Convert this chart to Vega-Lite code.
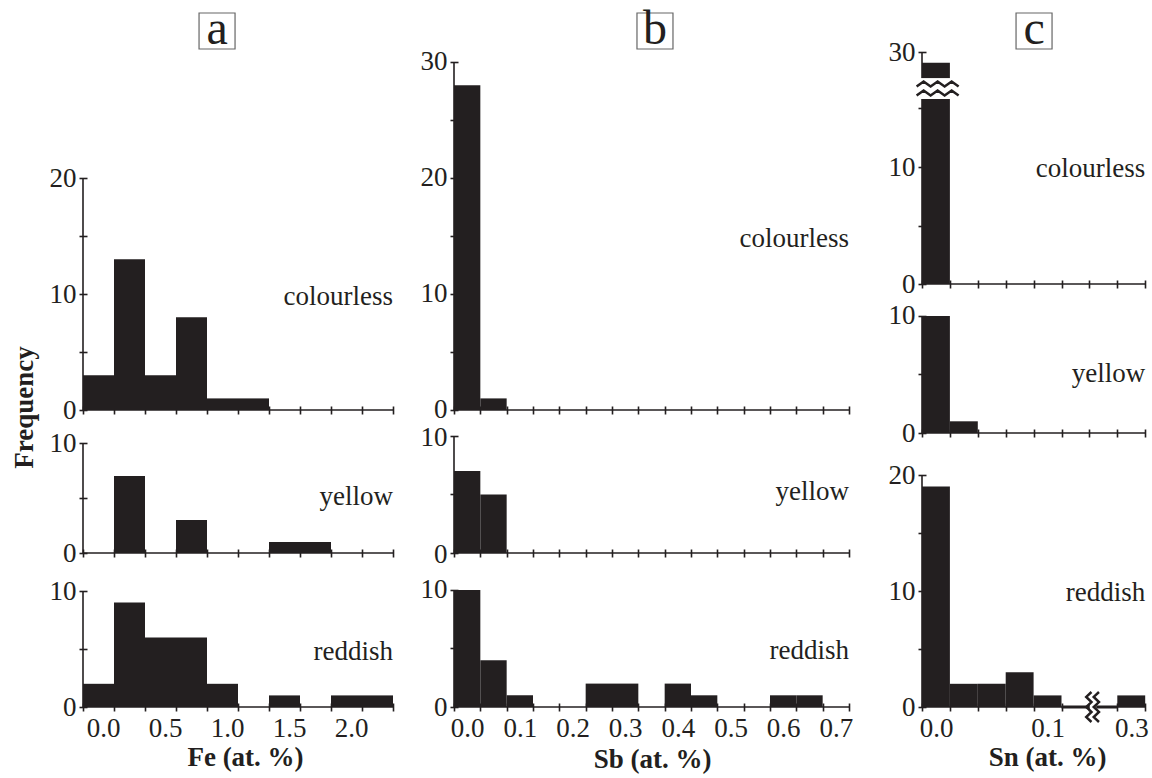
{
  "$schema": "https://vega.github.io/schema/vega-lite/v6.json",
  "background": "white",
  "padding": {"left": 10, "top": 6, "right": 2, "bottom": 2},
  "config": {
    "view": {"stroke": null},
    "font": "Liberation Serif",
    "axis": {
      "domain": false, "grid": false, "offset": -4, "tickSize": 8, "tickWidth": 1.6, "tickColor": "#231f20", "tickCount": 50,
      "labelFont": "Liberation Serif", "labelFontSize": 27, "labelColor": "#231f20",
      "labelFlush": false, "labelOverlap": false,
      "titleFont": "Liberation Serif", "titleFontSize": 27, "titleFontWeight": "bold", "titleColor": "#231f20"
    },
    "axisX": {"labelPadding": 4.5},
    "axisY": {"labelPadding": 3}
  },
  "datasets": {
    "hist": [
      {"element": "Fe", "colour": "colourless", "bin_start": -0.125, "bin_end": 0.125, "count": 3},
      {"element": "Fe", "colour": "colourless", "bin_start": 0.125, "bin_end": 0.375, "count": 13},
      {"element": "Fe", "colour": "colourless", "bin_start": 0.375, "bin_end": 0.625, "count": 3},
      {"element": "Fe", "colour": "colourless", "bin_start": 0.625, "bin_end": 0.875, "count": 8},
      {"element": "Fe", "colour": "colourless", "bin_start": 0.875, "bin_end": 1.125, "count": 1},
      {"element": "Fe", "colour": "colourless", "bin_start": 1.125, "bin_end": 1.375, "count": 1},
      {"element": "Fe", "colour": "yellow", "bin_start": 0.125, "bin_end": 0.375, "count": 7},
      {"element": "Fe", "colour": "yellow", "bin_start": 0.625, "bin_end": 0.875, "count": 3},
      {"element": "Fe", "colour": "yellow", "bin_start": 1.375, "bin_end": 1.625, "count": 1},
      {"element": "Fe", "colour": "yellow", "bin_start": 1.625, "bin_end": 1.875, "count": 1},
      {"element": "Fe", "colour": "reddish", "bin_start": -0.125, "bin_end": 0.125, "count": 2},
      {"element": "Fe", "colour": "reddish", "bin_start": 0.125, "bin_end": 0.375, "count": 9},
      {"element": "Fe", "colour": "reddish", "bin_start": 0.375, "bin_end": 0.625, "count": 6},
      {"element": "Fe", "colour": "reddish", "bin_start": 0.625, "bin_end": 0.875, "count": 6},
      {"element": "Fe", "colour": "reddish", "bin_start": 0.875, "bin_end": 1.125, "count": 2},
      {"element": "Fe", "colour": "reddish", "bin_start": 1.375, "bin_end": 1.625, "count": 1},
      {"element": "Fe", "colour": "reddish", "bin_start": 1.875, "bin_end": 2.125, "count": 1},
      {"element": "Fe", "colour": "reddish", "bin_start": 2.125, "bin_end": 2.375, "count": 1},
      {"element": "Sb", "colour": "colourless", "bin_start": -0.025, "bin_end": 0.025, "count": 28},
      {"element": "Sb", "colour": "colourless", "bin_start": 0.025, "bin_end": 0.075, "count": 1},
      {"element": "Sb", "colour": "yellow", "bin_start": -0.025, "bin_end": 0.025, "count": 7},
      {"element": "Sb", "colour": "yellow", "bin_start": 0.025, "bin_end": 0.075, "count": 5},
      {"element": "Sb", "colour": "reddish", "bin_start": -0.025, "bin_end": 0.025, "count": 10},
      {"element": "Sb", "colour": "reddish", "bin_start": 0.025, "bin_end": 0.075, "count": 4},
      {"element": "Sb", "colour": "reddish", "bin_start": 0.075, "bin_end": 0.125, "count": 1},
      {"element": "Sb", "colour": "reddish", "bin_start": 0.225, "bin_end": 0.275, "count": 2},
      {"element": "Sb", "colour": "reddish", "bin_start": 0.275, "bin_end": 0.325, "count": 2},
      {"element": "Sb", "colour": "reddish", "bin_start": 0.375, "bin_end": 0.425, "count": 2},
      {"element": "Sb", "colour": "reddish", "bin_start": 0.425, "bin_end": 0.475, "count": 1},
      {"element": "Sb", "colour": "reddish", "bin_start": 0.575, "bin_end": 0.625, "count": 1},
      {"element": "Sb", "colour": "reddish", "bin_start": 0.625, "bin_end": 0.675, "count": 1},
      {"element": "Sn", "colour": "colourless", "bin_start": -0.0125, "bin_end": 0.0125, "count": 29},
      {"element": "Sn", "colour": "yellow", "bin_start": -0.0125, "bin_end": 0.0125, "count": 10},
      {"element": "Sn", "colour": "yellow", "bin_start": 0.0125, "bin_end": 0.0375, "count": 1},
      {"element": "Sn", "colour": "reddish", "bin_start": -0.0125, "bin_end": 0.0125, "count": 19},
      {"element": "Sn", "colour": "reddish", "bin_start": 0.0125, "bin_end": 0.0375, "count": 2},
      {"element": "Sn", "colour": "reddish", "bin_start": 0.0375, "bin_end": 0.0625, "count": 2},
      {"element": "Sn", "colour": "reddish", "bin_start": 0.0625, "bin_end": 0.0875, "count": 3},
      {"element": "Sn", "colour": "reddish", "bin_start": 0.0875, "bin_end": 0.1125, "count": 1},
      {"element": "Sn", "colour": "reddish", "bin_start": 0.2875, "bin_end": 0.3125, "count": 1}
    ]
  },
  "spacing": 7,
  "hconcat": [
    {
      "vconcat": [
        {
          "width": 310, "height": 36,
          "data": {"values": [{"panel": "a"}]},
          "layer": [
            {"mark": {"type": "point", "shape": "square", "size": 1296, "filled": false, "color": "#666666", "strokeWidth": 1.2, "opacity": 1},
             "encoding": {"x": {"datum": 0.956, "type": "quantitative", "scale": {"domain": [-0.125, 2.375], "nice": false, "zero": false}, "axis": null}}},
            {"mark": {"type": "text", "fontSize": 48, "baseline": "middle", "dy": -1, "color": "#231f20"},
             "encoding": {"x": {"datum": 0.956, "type": "quantitative", "axis": null}, "text": {"field": "panel"}}}
          ]
        },
        {
          "width": 310, "height": 361,
          "layer": [
            {"data": {"values": [{}]}, "mark": {"type": "rule", "color": "#231f20", "strokeWidth": 1.6},
             "encoding": {"x": {"datum": -0.125, "type": "quantitative"}, "y": {"datum": 0, "type": "quantitative"}, "y2": {"datum": 20}}},
            {"data": {"values": [{}]}, "mark": {"type": "rule", "color": "#231f20", "strokeWidth": 1.6},
             "encoding": {"x": {"datum": -0.125, "type": "quantitative"}, "x2": {"datum": 2.375}, "y": {"datum": 0, "type": "quantitative"}}},
            {"data": {"name": "hist"},
             "transform": [{"filter": "datum.element == 'Fe' && datum.colour == 'colourless'"}],
             "mark": {"type": "rect", "color": "#231f20"},
             "encoding": {
               "x": {"field": "bin_start", "type": "quantitative", "scale": {"domain": [-0.125, 2.375], "nice": false, "zero": false},
                     "axis": {"values": [-0.125, 0.125, 0.375, 0.625, 0.875, 1.125, 1.375, 1.625, 1.875, 2.125, 2.375], "labels": false, "title": null}},
               "x2": {"field": "bin_end"},
               "y": {"field": "count", "type": "quantitative", "scale": {"domain": [0, 31.121], "nice": false, "zero": false},
                     "axis": {"values": [0, 5, 10, 15, 20], "labelExpr": "datum.value % 10 == 0 ? format(datum.value, 'd') : ''",
                              "title": "Frequency", "titleX": -54.5, "titleY": 358, "titleAngle": -90, "titleAlign": "center", "titleBaseline": "alphabetic"}},
               "y2": {"datum": 0}
             }},
            {"data": {"values": [{"label": "colourless"}]},
             "mark": {"type": "text", "align": "right", "baseline": "alphabetic", "fontSize": 27, "color": "#231f20"},
             "encoding": {"x": {"datum": 2.375, "type": "quantitative"}, "y": {"datum": 9.05, "type": "quantitative"}, "text": {"field": "label"}}}
          ]
        },
        {
          "width": 310, "height": 143,
          "layer": [
            {"data": {"values": [{}]}, "mark": {"type": "rule", "color": "#231f20", "strokeWidth": 1.6},
             "encoding": {"x": {"datum": -0.125, "type": "quantitative"}, "y": {"datum": 0, "type": "quantitative"}, "y2": {"datum": 10}}},
            {"data": {"values": [{}]}, "mark": {"type": "rule", "color": "#231f20", "strokeWidth": 1.6},
             "encoding": {"x": {"datum": -0.125, "type": "quantitative"}, "x2": {"datum": 2.375}, "y": {"datum": 0, "type": "quantitative"}}},
            {"data": {"name": "hist"},
             "transform": [{"filter": "datum.element == 'Fe' && datum.colour == 'yellow'"}],
             "mark": {"type": "rect", "color": "#231f20"},
             "encoding": {
               "x": {"field": "bin_start", "type": "quantitative", "scale": {"domain": [-0.125, 2.375], "nice": false, "zero": false},
                     "axis": {"values": [-0.125, 0.125, 0.375, 0.625, 0.875, 1.125, 1.375, 1.625, 1.875, 2.125, 2.375], "labels": false, "title": null}},
               "x2": {"field": "bin_end"},
               "y": {"field": "count", "type": "quantitative", "scale": {"domain": [0, 13.0], "nice": false, "zero": false},
                     "axis": {"values": [0, 5, 10], "labelExpr": "datum.value % 10 == 0 ? format(datum.value, 'd') : ''", "title": null}},
               "y2": {"datum": 0}
             }},
            {"data": {"values": [{"label": "yellow"}]},
             "mark": {"type": "text", "align": "right", "baseline": "alphabetic", "fontSize": 27, "color": "#231f20"},
             "encoding": {"x": {"datum": 2.375, "type": "quantitative"}, "y": {"datum": 4.36, "type": "quantitative"}, "text": {"field": "label"}}}
          ]
        },
        {
          "width": 310, "height": 154,
          "layer": [
            {"data": {"values": [{}]}, "mark": {"type": "rule", "color": "#231f20", "strokeWidth": 1.6},
             "encoding": {"x": {"datum": -0.125, "type": "quantitative"}, "y": {"datum": 0, "type": "quantitative"}, "y2": {"datum": 10}}},
            {"data": {"values": [{}]}, "mark": {"type": "rule", "color": "#231f20", "strokeWidth": 1.6},
             "encoding": {"x": {"datum": -0.125, "type": "quantitative"}, "x2": {"datum": 2.375}, "y": {"datum": 0, "type": "quantitative"}}},
            {"data": {"name": "hist"},
             "transform": [{"filter": "datum.element == 'Fe' && datum.colour == 'reddish'"}],
             "mark": {"type": "rect", "color": "#231f20"},
             "encoding": {
               "x": {"field": "bin_start", "type": "quantitative", "scale": {"domain": [-0.125, 2.375], "nice": false, "zero": false},
                     "axis": {"values": [-0.125, 0.125, 0.375, 0.625, 0.875, 1.125, 1.375, 1.625, 1.875, 2.125, 2.375],
                              "labelExpr": "(abs((datum.value + 0.125) * 2 - round((datum.value + 0.125) * 2)) < 0.01 && datum.value < 2.2) ? format(datum.value + 0.125, '.1f') : ''",
                              "labelOffset": 20,
                              "title": "Fe (at. %)", "titleX": 162, "titleY": 62, "titleAlign": "center", "titleBaseline": "alphabetic"}},
               "x2": {"field": "bin_end"},
               "y": {"field": "count", "type": "quantitative", "scale": {"domain": [0, 13.276], "nice": false, "zero": false},
                     "axis": {"values": [0, 5, 10], "labelExpr": "datum.value % 10 == 0 ? format(datum.value, 'd') : ''", "title": null}},
               "y2": {"datum": 0}
             }},
            {"data": {"values": [{"label": "reddish"}]},
             "mark": {"type": "text", "align": "right", "baseline": "alphabetic", "fontSize": 27, "color": "#231f20"},
             "encoding": {"x": {"datum": 2.375, "type": "quantitative"}, "y": {"datum": 4.05, "type": "quantitative"}, "text": {"field": "label"}}}
          ]
        }
      ],
      "spacing": 0,
      "bounds": "flush"
    },
    {
      "vconcat": [
        {
          "width": 427, "height": 36,
          "data": {"values": [{"panel": "b"}]},
          "layer": [
            {"mark": {"type": "point", "shape": "square", "size": 1296, "filled": false, "color": "#666666", "strokeWidth": 1.2, "opacity": 1},
             "encoding": {"x": {"datum": 0.3566, "type": "quantitative", "scale": {"domain": [-0.025, 0.78576], "nice": false, "zero": false}, "axis": null}}},
            {"mark": {"type": "text", "fontSize": 48, "baseline": "middle", "dy": -1, "color": "#231f20"},
             "encoding": {"x": {"datum": 0.3566, "type": "quantitative", "axis": null}, "text": {"field": "panel"}}}
          ]
        },
        {
          "width": 427, "height": 361,
          "layer": [
            {"data": {"values": [{}]}, "mark": {"type": "rule", "color": "#231f20", "strokeWidth": 1.6},
             "encoding": {"x": {"datum": -0.025, "type": "quantitative"}, "y": {"datum": 0, "type": "quantitative"}, "y2": {"datum": 30}}},
            {"data": {"values": [{}]}, "mark": {"type": "rule", "color": "#231f20", "strokeWidth": 1.6},
             "encoding": {"x": {"datum": -0.025, "type": "quantitative"}, "x2": {"datum": 0.725}, "y": {"datum": 0, "type": "quantitative"}}},
            {"data": {"name": "hist"},
             "transform": [{"filter": "datum.element == 'Sb' && datum.colour == 'colourless'"}],
             "mark": {"type": "rect", "color": "#231f20"},
             "encoding": {
               "x": {"field": "bin_start", "type": "quantitative", "scale": {"domain": [-0.025, 0.78576], "nice": false, "zero": false},
                     "axis": {"values": [-0.025, 0.025, 0.075, 0.125, 0.175, 0.225, 0.275, 0.325, 0.375, 0.425, 0.475, 0.525, 0.575, 0.625, 0.675, 0.725], "labels": false, "title": null}},
               "x2": {"field": "bin_end"},
               "y": {"field": "count", "type": "quantitative", "scale": {"domain": [0, 31.121], "nice": false, "zero": false},
                     "axis": {"values": [0, 5, 10, 15, 20, 25, 30], "labelExpr": "datum.value % 10 == 0 ? format(datum.value, 'd') : ''", "labelOffset": -1, "title": null}},
               "y2": {"datum": 0}
             }},
            {"data": {"values": [{"label": "colourless"}]},
             "mark": {"type": "text", "align": "right", "baseline": "alphabetic", "fontSize": 27, "color": "#231f20"},
             "encoding": {"x": {"datum": 0.725, "type": "quantitative"}, "y": {"datum": 14.05, "type": "quantitative"}, "text": {"field": "label"}}}
          ]
        },
        {
          "width": 427, "height": 143,
          "layer": [
            {"data": {"values": [{}]}, "mark": {"type": "rule", "color": "#231f20", "strokeWidth": 1.6},
             "encoding": {"x": {"datum": -0.025, "type": "quantitative"}, "y": {"datum": 0, "type": "quantitative"}, "y2": {"datum": 10}}},
            {"data": {"values": [{}]}, "mark": {"type": "rule", "color": "#231f20", "strokeWidth": 1.6},
             "encoding": {"x": {"datum": -0.025, "type": "quantitative"}, "x2": {"datum": 0.725}, "y": {"datum": 0, "type": "quantitative"}}},
            {"data": {"name": "hist"},
             "transform": [{"filter": "datum.element == 'Sb' && datum.colour == 'yellow'"}],
             "mark": {"type": "rect", "color": "#231f20"},
             "encoding": {
               "x": {"field": "bin_start", "type": "quantitative", "scale": {"domain": [-0.025, 0.78576], "nice": false, "zero": false},
                     "axis": {"values": [-0.025, 0.025, 0.075, 0.125, 0.175, 0.225, 0.275, 0.325, 0.375, 0.425, 0.475, 0.525, 0.575, 0.625, 0.675, 0.725], "labels": false, "title": null}},
               "x2": {"field": "bin_end"},
               "y": {"field": "count", "type": "quantitative", "scale": {"domain": [0, 12.222], "nice": false, "zero": false},
                     "axis": {"values": [0, 5, 10], "labelExpr": "datum.value % 10 == 0 ? format(datum.value, 'd') : ''", "labelOffset": 1.5, "title": null}},
               "y2": {"datum": 0}
             }},
            {"data": {"values": [{"label": "yellow"}]},
             "mark": {"type": "text", "align": "right", "baseline": "alphabetic", "fontSize": 27, "color": "#231f20"},
             "encoding": {"x": {"datum": 0.725, "type": "quantitative"}, "y": {"datum": 4.5, "type": "quantitative"}, "text": {"field": "label"}}}
          ]
        },
        {
          "width": 427, "height": 154,
          "layer": [
            {"data": {"values": [{}]}, "mark": {"type": "rule", "color": "#231f20", "strokeWidth": 1.6},
             "encoding": {"x": {"datum": -0.025, "type": "quantitative"}, "y": {"datum": 0, "type": "quantitative"}, "y2": {"datum": 10}}},
            {"data": {"values": [{}]}, "mark": {"type": "rule", "color": "#231f20", "strokeWidth": 1.6},
             "encoding": {"x": {"datum": -0.025, "type": "quantitative"}, "x2": {"datum": 0.725}, "y": {"datum": 0, "type": "quantitative"}}},
            {"data": {"name": "hist"},
             "transform": [{"filter": "datum.element == 'Sb' && datum.colour == 'reddish'"}],
             "mark": {"type": "rect", "color": "#231f20"},
             "encoding": {
               "x": {"field": "bin_start", "type": "quantitative", "scale": {"domain": [-0.025, 0.78576], "nice": false, "zero": false},
                     "axis": {"values": [-0.025, 0.025, 0.075, 0.125, 0.175, 0.225, 0.275, 0.325, 0.375, 0.425, 0.475, 0.525, 0.575, 0.625, 0.675, 0.725],
                              "labelExpr": "(abs((datum.value + 0.025) * 10 - round((datum.value + 0.025) * 10)) < 0.01) ? format(datum.value + 0.025, '.1f') : ''",
                              "labelOffset": 13.2,
                              "title": "Sb (at. %)", "titleX": 198, "titleY": 64, "titleAlign": "center", "titleBaseline": "alphabetic"}},
               "x2": {"field": "bin_end"},
               "y": {"field": "count", "type": "quantitative", "scale": {"domain": [0, 13.162], "nice": false, "zero": false},
                     "axis": {"values": [0, 5, 10], "labelExpr": "datum.value % 10 == 0 ? format(datum.value, 'd') : ''", "title": null}},
               "y2": {"datum": 0}
             }},
            {"data": {"values": [{"label": "reddish"}]},
             "mark": {"type": "text", "align": "right", "baseline": "alphabetic", "fontSize": 27, "color": "#231f20"},
             "encoding": {"x": {"datum": 0.725, "type": "quantitative"}, "y": {"datum": 4.1, "type": "quantitative"}, "text": {"field": "label"}}}
          ]
        }
      ],
      "spacing": 0,
      "bounds": "flush"
    },
    {
      "vconcat": [
        {
          "width": 223, "height": 36,
          "data": {"values": [{"panel": "c"}]},
          "layer": [
            {"mark": {"type": "point", "shape": "square", "size": 1296, "filled": false, "color": "#666666", "strokeWidth": 1.2, "opacity": 1},
             "encoding": {"x": {"datum": 0.0879, "type": "quantitative", "scale": {"domain": [-0.0125, 0.1625, 0.2875, 0.3125], "range": [0, 195.3, 195.3, 223.2], "nice": false, "zero": false}, "axis": null}}},
            {"mark": {"type": "text", "fontSize": 48, "baseline": "middle", "dy": -1, "color": "#231f20"},
             "encoding": {"x": {"datum": 0.0879, "type": "quantitative", "axis": null}, "text": {"field": "panel"}}}
          ]
        },
        {
          "width": 223, "height": 235,
          "layer": [
            {"data": {"values": [{}]}, "mark": {"type": "rule", "color": "#231f20", "strokeWidth": 1.6},
             "encoding": {"x": {"datum": -0.0125, "type": "quantitative"}, "y": {"datum": 0, "type": "quantitative"}, "y2": {"datum": 30}}},
            {"data": {"values": [{}]}, "mark": {"type": "rule", "color": "#231f20", "strokeWidth": 1.6},
             "encoding": {"x": {"datum": -0.0125, "type": "quantitative"}, "x2": {"datum": 0.3125}, "y": {"datum": 0, "type": "quantitative"}}},
            {"data": {"name": "hist"},
             "transform": [{"filter": "datum.element == 'Sn' && datum.colour == 'colourless'"}],
             "mark": {"type": "rect", "color": "#231f20"},
             "encoding": {
               "x": {"field": "bin_start", "type": "quantitative", "scale": {"domain": [-0.0125, 0.1625, 0.2875, 0.3125], "range": [0, 195.3, 195.3, 223.2], "nice": false, "zero": false},
                     "axis": {"values": [-0.0125, 0.0125, 0.0375, 0.0625, 0.0875, 0.1125, 0.1375, 0.2875, 0.3125], "labels": false, "title": null}},
               "x2": {"field": "bin_end"},
               "y": {"field": "count", "type": "quantitative", "scale": {"domain": [0, 18, 28, 30], "range": [235, 24.4, 24.4, 3], "nice": false, "zero": false},
                     "axis": {"values": [0, 5, 10, 15, 30], "labelExpr": "datum.value % 10 == 0 ? format(datum.value, 'd') : ''", "title": null}},
               "y2": {"datum": 0}
             }},
            {"data": {"values": [{}]}, "mark": {"type": "rect", "color": "white"},
             "encoding": {"x": {"datum": -0.0138, "type": "quantitative"}, "x2": {"datum": 0.0128}, "y": {"datum": 15.81, "type": "quantitative"}, "y2": {"datum": 17.6}}},
            {"data": {"values": [{}]},
             "mark": {"type": "point", "shape": "M-1,0.12L-0.667,-0.12L-0.333,0.12L0,-0.12L0.333,0.12L0.667,-0.12L1,0.12", "size": 1764, "filled": false, "color": "#231f20", "strokeWidth": 2.5, "opacity": 1},
             "encoding": {"x": {"datum": 0.0015, "type": "quantitative"}, "y": {"datum": 17.09, "type": "quantitative"}}},
            {"data": {"values": [{}]},
             "mark": {"type": "point", "shape": "M-1,0.12L-0.667,-0.12L-0.333,0.12L0,-0.12L0.333,0.12L0.667,-0.12L1,0.12", "size": 1764, "filled": false, "color": "#231f20", "strokeWidth": 2.5, "opacity": 1},
             "encoding": {"x": {"datum": 0.0015, "type": "quantitative"}, "y": {"datum": 16.32, "type": "quantitative"}}},
            {"data": {"values": [{"label": "colourless"}]},
             "mark": {"type": "text", "align": "right", "baseline": "alphabetic", "fontSize": 27, "color": "#231f20"},
             "encoding": {"x": {"datum": 0.3125, "type": "quantitative"}, "y": {"datum": 9.15, "type": "quantitative"}, "text": {"field": "label"}}}
          ]
        },
        {
          "width": 223, "height": 149,
          "layer": [
            {"data": {"values": [{}]}, "mark": {"type": "rule", "color": "#231f20", "strokeWidth": 1.6},
             "encoding": {"x": {"datum": -0.0125, "type": "quantitative"}, "y": {"datum": 0, "type": "quantitative"}, "y2": {"datum": 10}}},
            {"data": {"values": [{}]}, "mark": {"type": "rule", "color": "#231f20", "strokeWidth": 1.6},
             "encoding": {"x": {"datum": -0.0125, "type": "quantitative"}, "x2": {"datum": 0.3125}, "y": {"datum": 0, "type": "quantitative"}}},
            {"data": {"name": "hist"},
             "transform": [{"filter": "datum.element == 'Sn' && datum.colour == 'yellow'"}],
             "mark": {"type": "rect", "color": "#231f20"},
             "encoding": {
               "x": {"field": "bin_start", "type": "quantitative", "scale": {"domain": [-0.0125, 0.1625, 0.2875, 0.3125], "range": [0, 195.3, 195.3, 223.2], "nice": false, "zero": false},
                     "axis": {"values": [-0.0125, 0.0125, 0.0375, 0.0625, 0.0875, 0.1125, 0.1375, 0.2875, 0.3125], "labels": false, "title": null}},
               "x2": {"field": "bin_end"},
               "y": {"field": "count", "type": "quantitative", "scale": {"domain": [0, 12.735], "nice": false, "zero": false},
                     "axis": {"values": [0, 5, 10], "labelExpr": "datum.value % 10 == 0 ? format(datum.value, 'd') : ''", "title": null}},
               "y2": {"datum": 0}
             }},
            {"data": {"values": [{"label": "yellow"}]},
             "mark": {"type": "text", "align": "right", "baseline": "alphabetic", "fontSize": 27, "color": "#231f20"},
             "encoding": {"x": {"datum": 0.3125, "type": "quantitative"}, "y": {"datum": 4.36, "type": "quantitative"}, "text": {"field": "label"}}}
          ]
        },
        {
          "width": 223, "height": 274,
          "layer": [
            {"data": {"values": [{}]}, "mark": {"type": "rule", "color": "#231f20", "strokeWidth": 1.6},
             "encoding": {"x": {"datum": -0.0125, "type": "quantitative"}, "y": {"datum": 0, "type": "quantitative"}, "y2": {"datum": 20}}},
            {"data": {"values": [{}]}, "mark": {"type": "rule", "color": "#231f20", "strokeWidth": 1.6},
             "encoding": {"x": {"datum": -0.0125, "type": "quantitative"}, "x2": {"datum": 0.3125}, "y": {"datum": 0, "type": "quantitative"}}},
            {"data": {"values": [{}]}, "mark": {"type": "rule", "color": "#231f20", "strokeWidth": 3.2},
             "encoding": {"x": {"datum": 0.1125, "type": "quantitative"}, "x2": {"datum": 0.2875}, "y": {"datum": 0, "type": "quantitative"}}},
            {"data": {"name": "hist"},
             "transform": [{"filter": "datum.element == 'Sn' && datum.colour == 'reddish'"}],
             "mark": {"type": "rect", "color": "#231f20"},
             "encoding": {
               "x": {"field": "bin_start", "type": "quantitative", "scale": {"domain": [-0.0125, 0.1625, 0.2875, 0.3125], "range": [0, 195.3, 195.3, 223.2], "nice": false, "zero": false},
                     "axis": {"values": [-0.0125, 0.0125, 0.0375, 0.0625, 0.0875, 0.1125, 0.1375, 0.2875, 0.3125],
                              "labelExpr": "(abs((datum.value + 0.0125) * 10 - round((datum.value + 0.0125) * 10)) < 0.01) ? format(datum.value + 0.0125, '.1f') : ''",
                              "labelOffset": 14,
                              "title": "Sn (at. %)", "titleX": 125, "titleY": 62, "titleAlign": "center", "titleBaseline": "alphabetic"}},
               "x2": {"field": "bin_end"},
               "y": {"field": "count", "type": "quantitative", "scale": {"domain": [0, 23.621], "nice": false, "zero": false},
                     "axis": {"values": [0, 5, 10, 15, 20], "labelExpr": "datum.value % 10 == 0 ? format(datum.value, 'd') : ''", "title": null}},
               "y2": {"datum": 0}
             }},
            {"data": {"values": [{}]},
             "mark": {"type": "point", "shape": "square", "size": 42, "filled": true, "color": "white", "opacity": 1},
             "encoding": {"x": {"datum": 0.1407, "type": "quantitative"}, "y": {"datum": 0, "type": "quantitative"}}},
            {"data": {"values": [{}]},
             "mark": {"type": "point", "shape": "M-0.1,-1L-0.45,-0.67L-0.1,-0.33L-0.45,0L-0.1,0.33L-0.45,0.67L-0.1,1M0.4,-1L0.05,-0.67L0.4,-0.33L0.05,0L0.4,0.33L0.05,0.67L0.4,1", "size": 900, "filled": false, "color": "#231f20", "strokeWidth": 2.5, "opacity": 1},
             "encoding": {"x": {"datum": 0.1407, "type": "quantitative"}, "y": {"datum": 0, "type": "quantitative"}}},
            {"data": {"values": [{"label": "reddish"}]},
             "mark": {"type": "text", "align": "right", "baseline": "alphabetic", "fontSize": 27, "color": "#231f20"},
             "encoding": {"x": {"datum": 0.3125, "type": "quantitative"}, "y": {"datum": 9.1, "type": "quantitative"}, "text": {"field": "label"}}}
          ]
        }
      ],
      "spacing": 0,
      "bounds": "flush"
    }
  ]
}
